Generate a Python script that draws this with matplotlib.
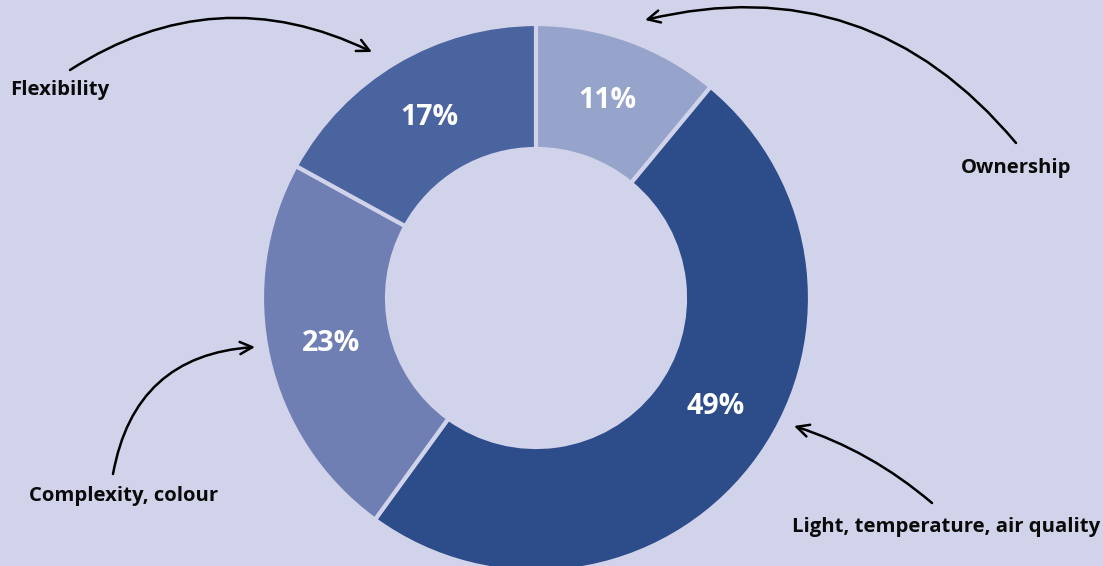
import matplotlib
matplotlib.use("Agg")
import matplotlib.pyplot as plt

categories = ["Ownership", "Light, temperature, air quality", "Complexity, colour", "Flexibility"]
values = [11, 49, 23, 17]
colors = ["#96A3CB", "#2C4C8A", "#6F7FB3", "#4A64A0"]
bg = "#D1D3EA"

W, H = 1103, 566
fig = plt.figure(figsize=(W / 100, H / 100), dpi=100, facecolor=bg)
ax = fig.add_axes([0, 0, 1, 1])
ax.set_facecolor(bg)

font = "Open Sans"
wedges, texts, autotexts = ax.pie(
    values, colors=colors, startangle=90, counterclock=False,
    radius=274, center=(536, H - 298),
    wedgeprops=dict(width=125, edgecolor=bg, linewidth=3),
    autopct=lambda p: f"{p:.0f}%", pctdistance=0.766,
    textprops=dict(color="white", fontsize=20.5, fontweight="bold", family=font),
)
# the 49% label sits slightly off its wedge centre in the reference
autotexts[1].set_position((716, H - 406))
ax.set_xlim(0, W)
ax.set_ylim(0, H)
ax.set_aspect("equal")
ax.axis("off")

# category labels (image coords -> data coords)
label_pos = {
    "Flexibility": (10, 90, "left"),
    "Ownership": (961, 168, "left"),
    "Complexity, colour": (29, 496, "left"),
    "Light, temperature, air quality": (792, 527, "left"),
}
for name in categories:
    x, y, ha = label_pos[name]
    ax.text(x, H - y, name, ha=ha, va="center", fontsize=14.6, fontweight="bold",
            family=font, color="#0a0a0a")

arrows = [
    ((70, 70), (372, 52), -0.28),
    ((1016, 143), (645, 20), 0.31),
    ((113, 474), (255, 347), -0.39),
    ((932, 503), (794, 426), 0.1),
]
for (sx, sy), (ex, ey), rad in arrows:
    ax.annotate("", xy=(ex, H - ey), xytext=(sx, H - sy),
                arrowprops=dict(arrowstyle="->", connectionstyle=f"arc3,rad={rad}",
                                lw=1.8, color="black", mutation_scale=22,
                                shrinkA=0, shrinkB=0))

fig.savefig("out.png", dpi=100, facecolor=bg)
